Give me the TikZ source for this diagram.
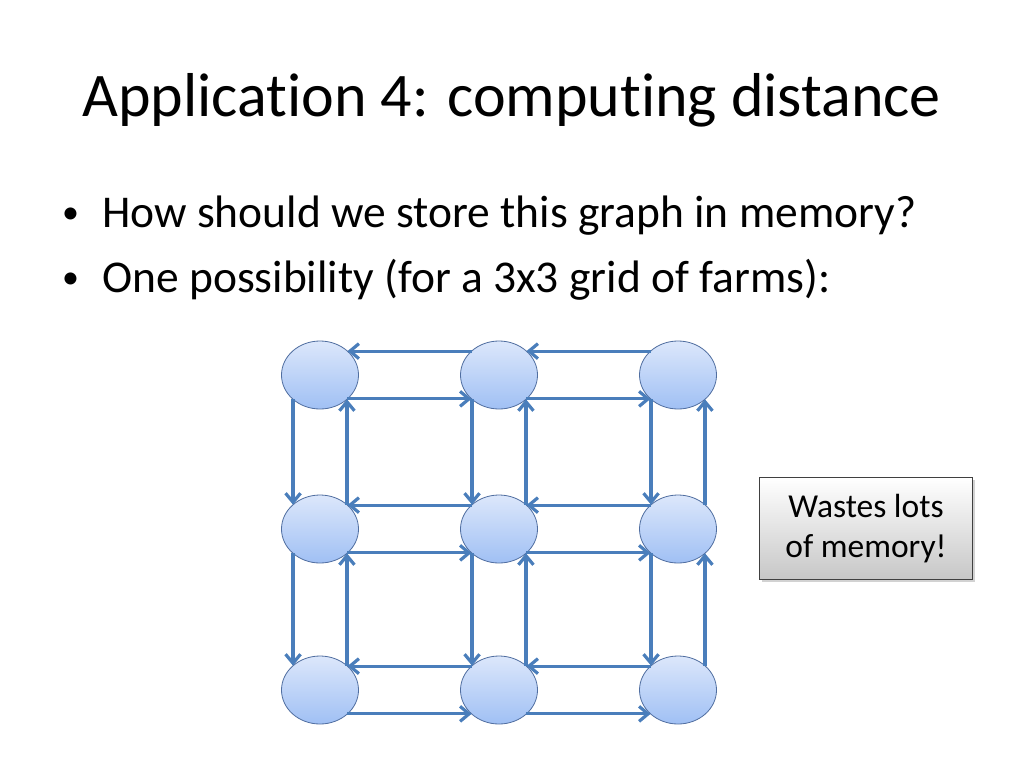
\documentclass[tikz,border=0pt]{standalone}
\usepackage{fontspec}
\setmainfont{Carlito}[Ligatures={NoCommon},RawFeature={-liga;-clig;-calt;-dlig}]
\usetikzlibrary{arrows.meta,shapes.geometric,shadows}
\definecolor{arrblue}{RGB}{74,126,187}
\definecolor{nodeborder}{RGB}{80,110,160}
\definecolor{nodetop}{RGB}{220,231,251}
\definecolor{nodebot}{RGB}{160,192,244}
\tikzset{
  farm/.style={ellipse, minimum width=77pt, minimum height=68pt, inner sep=0pt, outer sep=0pt,
    draw=nodeborder, line width=0.8pt, top color=nodetop, bottom color=nodebot},
  arr/.style={draw=arrblue, line width=3.2pt, -{Straight Barb[length=9pt,width=15pt]}},
  note/.style={draw=black!75, line width=0.8pt, top color=white, bottom color=black!22,
    minimum width=213pt, minimum height=102pt, align=center, font=\fontsize{33.5}{40.5}\selectfont,
    drop shadow={shadow xshift=2.5pt, shadow yshift=-2.5pt, opacity=0.35}},
  bul/.style={anchor=base west, inner sep=0pt, font=\fontsize{45.5}{54}\selectfont},
  dot/.style={anchor=base west, inner sep=0pt, font=\fontsize{34}{36}\selectfont}
}
\begin{document}
\begin{tikzpicture}[x=1pt,y=-1pt]
\path[fill=white] (0,0) rectangle (1024,768);
\useasboundingbox (0,0) rectangle (1024,768);
\node[anchor=base west, inner sep=0pt, font=\fontsize{62}{70}\selectfont] (title) at (82,116) {Applicat\kern0pt ion 4: comput\kern0pt ing distance};
\node[dot] (b1) at (62,223) {•};
\node[bul] (t1) at (102,227) {How should we store this graph in memory?};
\node[dot] (b2) at (62,288) {•};
\node[bul] (t2) at (102,292) {One possibility (for a 3x3 grid of farms):};
\foreach \r/\y in {1/375,2/529,3/690}{
  \foreach \c/\x in {1/320,2/499,3/678}{
    \node[farm] (n\r\c) at (\x,\y) {};
  }
}
\foreach \r in {1,2,3}{
  \foreach \c/\d in {1/2,2/3}{
    \draw[arr] (n\r\d.139) -- (n\r\c.41);
    \draw[arr] (n\r\c.-41) -- (n\r\d.-139);
  }
}
\foreach \c in {1,2,3}{
  \foreach \r/\s in {1/2,2/3}{
    \draw[arr] (n\r\c.-138) -- (n\s\c.138);
    \draw[arr] (n\s\c.42) -- (n\r\c.-42);
  }
}
\node[note] (memo) at (866,528.5) {Wastes lots\\of memory!};
\end{tikzpicture}
\end{document}
